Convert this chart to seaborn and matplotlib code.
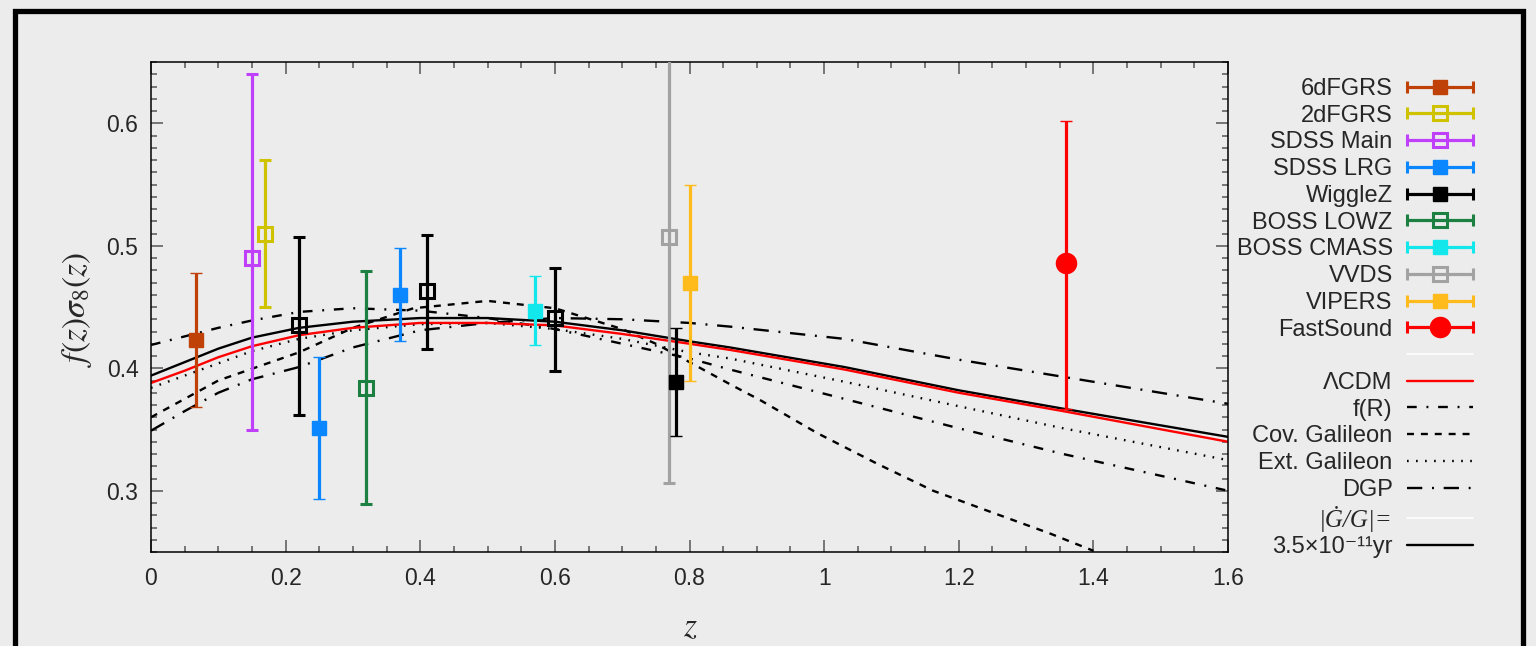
import numpy as np
import matplotlib
matplotlib.use("Agg")
import matplotlib.pyplot as plt
import seaborn as sns
from matplotlib.lines import Line2D
from matplotlib.patches import Rectangle
from matplotlib.collections import LineCollection
from matplotlib.container import ErrorbarContainer
from matplotlib.legend_handler import HandlerErrorbar
from matplotlib.ticker import MultipleLocator, FixedLocator, FixedFormatter

# ---- data ----
surveys = ["6dFGRS", "2dFGRS", "SDSS Main", "SDSS LRG", "WiggleZ",
           "BOSS LOWZ", "BOSS CMASS", "VVDS", "VIPERS", "FastSound"]

pt_survey = ["6dFGRS", "SDSS Main", "2dFGRS", "WiggleZ", "SDSS LRG", "BOSS LOWZ",
             "SDSS LRG", "WiggleZ", "BOSS CMASS", "WiggleZ", "VVDS", "WiggleZ",
             "VIPERS", "FastSound"]
pt_z = [0.067, 0.15, 0.17, 0.22, 0.25, 0.32, 0.37, 0.41, 0.57, 0.60, 0.77, 0.78, 0.80, 1.36]
pt_f = [0.423, 0.490, 0.510, 0.435, 0.351, 0.384, 0.460, 0.463, 0.447, 0.441, 0.507, 0.389, 0.470, 0.486]
pt_lo = [0.055, 0.140, 0.060, 0.073, 0.058, 0.095, 0.038, 0.047, 0.028, 0.043, 0.201, 0.044, 0.080, 0.119]
pt_hi = [0.055, 0.150, 0.060, 0.072, 0.058, 0.095, 0.038, 0.046, 0.028, 0.041, 0.200, 0.044, 0.080, 0.116]
pt_open = [False, True, True, True, False, True, False, True, False, True, True, False, False, False]

curve_z = [0, 0.05, 0.1, 0.15, 0.22, 0.3, 0.4, 0.5, 0.6, 0.7, 0.8, 0.86, 1.03, 1.2, 1.355, 1.6]
lcdm = [0.388, 0.398, 0.409, 0.418, 0.427, 0.433, 0.437, 0.437, 0.435, 0.428, 0.420, 0.415, 0.399,
        0.380, 0.365, 0.340]
gdot = [0.394, 0.405, 0.416, 0.425, 0.433, 0.438, 0.441, 0.441, 0.438, 0.431, 0.422, 0.417, 0.401,
        0.382, 0.367, 0.344]
ext_gal = [0.384, 0.394, 0.404, 0.414, 0.424, 0.431, 0.436, 0.437, 0.432, 0.424, 0.413, 0.408, 0.389,
           0.369, 0.351, 0.325]
f_r = [0.419, 0.426, 0.433, 0.439, 0.446, 0.449, 0.447, 0.441, 0.432, 0.420, 0.408, 0.399, 0.375,
       0.351, 0.330, 0.300]
dgp = [0.349, 0.365, 0.380, 0.391, 0.401, 0.417, 0.431, 0.437, 0.441, 0.440, 0.437, 0.434, 0.424,
       0.407, 0.393, 0.371]
cov_z = [0, 0.1, 0.22, 0.3, 0.39, 0.5, 0.6, 0.7, 0.75, 0.8, 0.86, 0.905, 0.99, 1.079, 1.162, 1.251, 1.336, 1.40]
cov_gal = [0.360, 0.390, 0.413, 0.433, 0.449, 0.455, 0.449, 0.432, 0.420, 0.405, 0.387, 0.374, 0.347,
           0.322, 0.300, 0.282, 0.265, 0.251]

xticks = [0, 0.2, 0.4, 0.6, 0.8, 1.0, 1.2, 1.4, 1.6]
xtick_labels = ["0", "0.2", "0.4", "0.6", "0.8", "1", "1.2", "1.4", "1.6"]
yticks = [0.3, 0.4, 0.5, 0.6]
ytick_labels = ["0.3", "0.4", "0.5", "0.6"]

# ---- styles ----
style = {
    "6dFGRS": ("#c04108", "s"),
    "2dFGRS": ("#cfc300", "s"),
    "SDSS Main": ("#bf3ffa", "s"),
    "SDSS LRG": ("#0a86ff", "s"),
    "WiggleZ": ("#000000", "s"),
    "BOSS LOWZ": ("#1c8040", "s"),
    "BOSS CMASS": ("#12e8ec", "s"),
    "VVDS": ("#a2a2a2", "s"),
    "VIPERS": ("#ffbb1c", "s"),
    "FastSound": ("#ff0000", "o"),
}
legend_open = {"2dFGRS": True, "SDSS Main": True, "BOSS LOWZ": True, "VVDS": True}
ls_dgp = (0, (11, 7, 1.4, 7))
ls_fr = (0, (7, 7, 1.4, 7))
ls_cov = (0, (5, 5))
ls_ext = (0, (1.2, 5.3))

bg = "#ececec"
sns.set_theme(style="ticks")
plt.rcParams["font.family"] = ["Liberation Sans", "DejaVu Sans"]
plt.rcParams["mathtext.fontset"] = "stix"
plt.rcParams["lines.scale_dashes"] = False

fig = plt.figure(figsize=(15.36, 6.46), dpi=100, facecolor=bg)
ax = fig.add_axes([0.0983, 0.1455, 0.7012, 0.7585])
ax.set_facecolor(bg)

# theory curves
for xs, ys, ls in [(curve_z, dgp, ls_dgp), (curve_z, f_r, ls_fr), (cov_z, cov_gal, ls_cov),
                   (curve_z, ext_gal, ls_ext), (curve_z, gdot, "-")]:
    sns.lineplot(x=xs, y=ys, ax=ax, color="black", linestyle=ls, lw=1.7, zorder=2)
sns.lineplot(x=curve_z, y=lcdm, ax=ax, color="red", lw=1.7, zorder=2)

# data points
for s, z, f, lo, hi, op in zip(pt_survey, pt_z, pt_f, pt_lo, pt_hi, pt_open):
    c, m = style[s]
    ms = 14.5 if m == "o" else (9.5 if op else 10.5)
    ax.errorbar([z], [f], yerr=[[lo], [hi]], fmt=m, color=c, ms=ms,
                mfc="none" if op else c, mew=2.2 if op else 1,
                elinewidth=2.3, capsize=4.3, capthick=2.2, zorder=3)

ax.set_xlim(0, 1.6)
ax.set_ylim(0.25, 0.65)
ax.xaxis.set_major_locator(FixedLocator(xticks))
ax.xaxis.set_major_formatter(FixedFormatter(xtick_labels))
ax.yaxis.set_major_locator(FixedLocator(yticks))
ax.yaxis.set_major_formatter(FixedFormatter(ytick_labels))
ax.xaxis.set_minor_locator(MultipleLocator(0.05))
ax.yaxis.set_minor_locator(MultipleLocator(0.01))
ax.tick_params(which="both", direction="in", top=True, right=True, color="#555555", width=1.1)
ax.tick_params(which="major", length=8.5)
ax.tick_params(which="minor", length=4.3)
ax.tick_params(axis="x", labelsize=16.5, pad=11)
ax.tick_params(axis="y", labelsize=16.5, pad=9)
for sp in ax.spines.values():
    sp.set_linewidth(1.1)
    sp.set_color("black")

ax.set_xlabel("$z$", fontsize=24, va="center")
ax.xaxis.set_label_coords(0.501, -0.155)
ax.set_ylabel(r"$f(z)\sigma_8(z)$", fontsize=24, va="center")
ax.yaxis.set_label_coords(-0.0687, 0.494)

# legend
handles = []
for s in surveys:
    c, m = style[s]
    op = legend_open.get(s, False)
    ms = 14.5 if m == "o" else (9.5 if op else 10.5)
    pl = Line2D([], [], ls="none", marker=m, color=c, ms=ms,
                mfc="none" if op else c, mew=2.2 if op else 1)
    cap = Line2D([], [], ls="none", marker="|", color=c, ms=8.6, mew=2.2)
    bar = LineCollection([], colors=c, linewidths=2.3)
    handles.append(ErrorbarContainer((pl, [cap], [bar]), has_xerr=True, has_yerr=False, label=s))
labels = list(surveys)
extra = [
    (Line2D([], [], color="white", lw=1.2), " "),
    (Line2D([], [], color="red", lw=1.7), "ΛCDM"),
    (Line2D([], [], color="black", lw=1.7, ls=ls_fr), "f(R)"),
    (Line2D([], [], color="black", lw=1.7, ls=ls_cov), "Cov. Galileon"),
    (Line2D([], [], color="black", lw=1.7, ls=ls_ext), "Ext. Galileon"),
    (Line2D([], [], color="black", lw=1.7, ls=ls_dgp), "DGP"),
    (Line2D([], [], color="white", lw=1.2), "|Ġ/G|="),
    (Line2D([], [], color="black", lw=1.7), "3.5×10⁻¹¹yr"),
]
for h, l in extra:
    handles.append(h)
    labels.append(l)

leg = fig.legend(handles, labels, loc="upper right", bbox_to_anchor=(1473 / 1536, 1 - 78 / 646),
                 frameon=False, markerfirst=False, fontsize=17, handlelength=2.8,
                 handletextpad=0.6, labelspacing=0.2, borderpad=0, borderaxespad=0,
                 handler_map={ErrorbarContainer: HandlerErrorbar(xerr_size=1.4)})
for t in leg.get_texts():
    if t.get_text() == "|Ġ/G|=":
        t.set_fontfamily(["Liberation Serif", "DejaVu Serif"])
        t.set_fontstyle("italic")
        t.set_fontsize(18)

# outer frame
fig.patches.append(Rectangle((15 / 1536, -0.2), 1508 / 1536, 1.2 - 10.5 / 646,
                             transform=fig.transFigure, fill=False, ec="black", lw=3.8))

fig.savefig("out.png", dpi=100, facecolor=bg)
